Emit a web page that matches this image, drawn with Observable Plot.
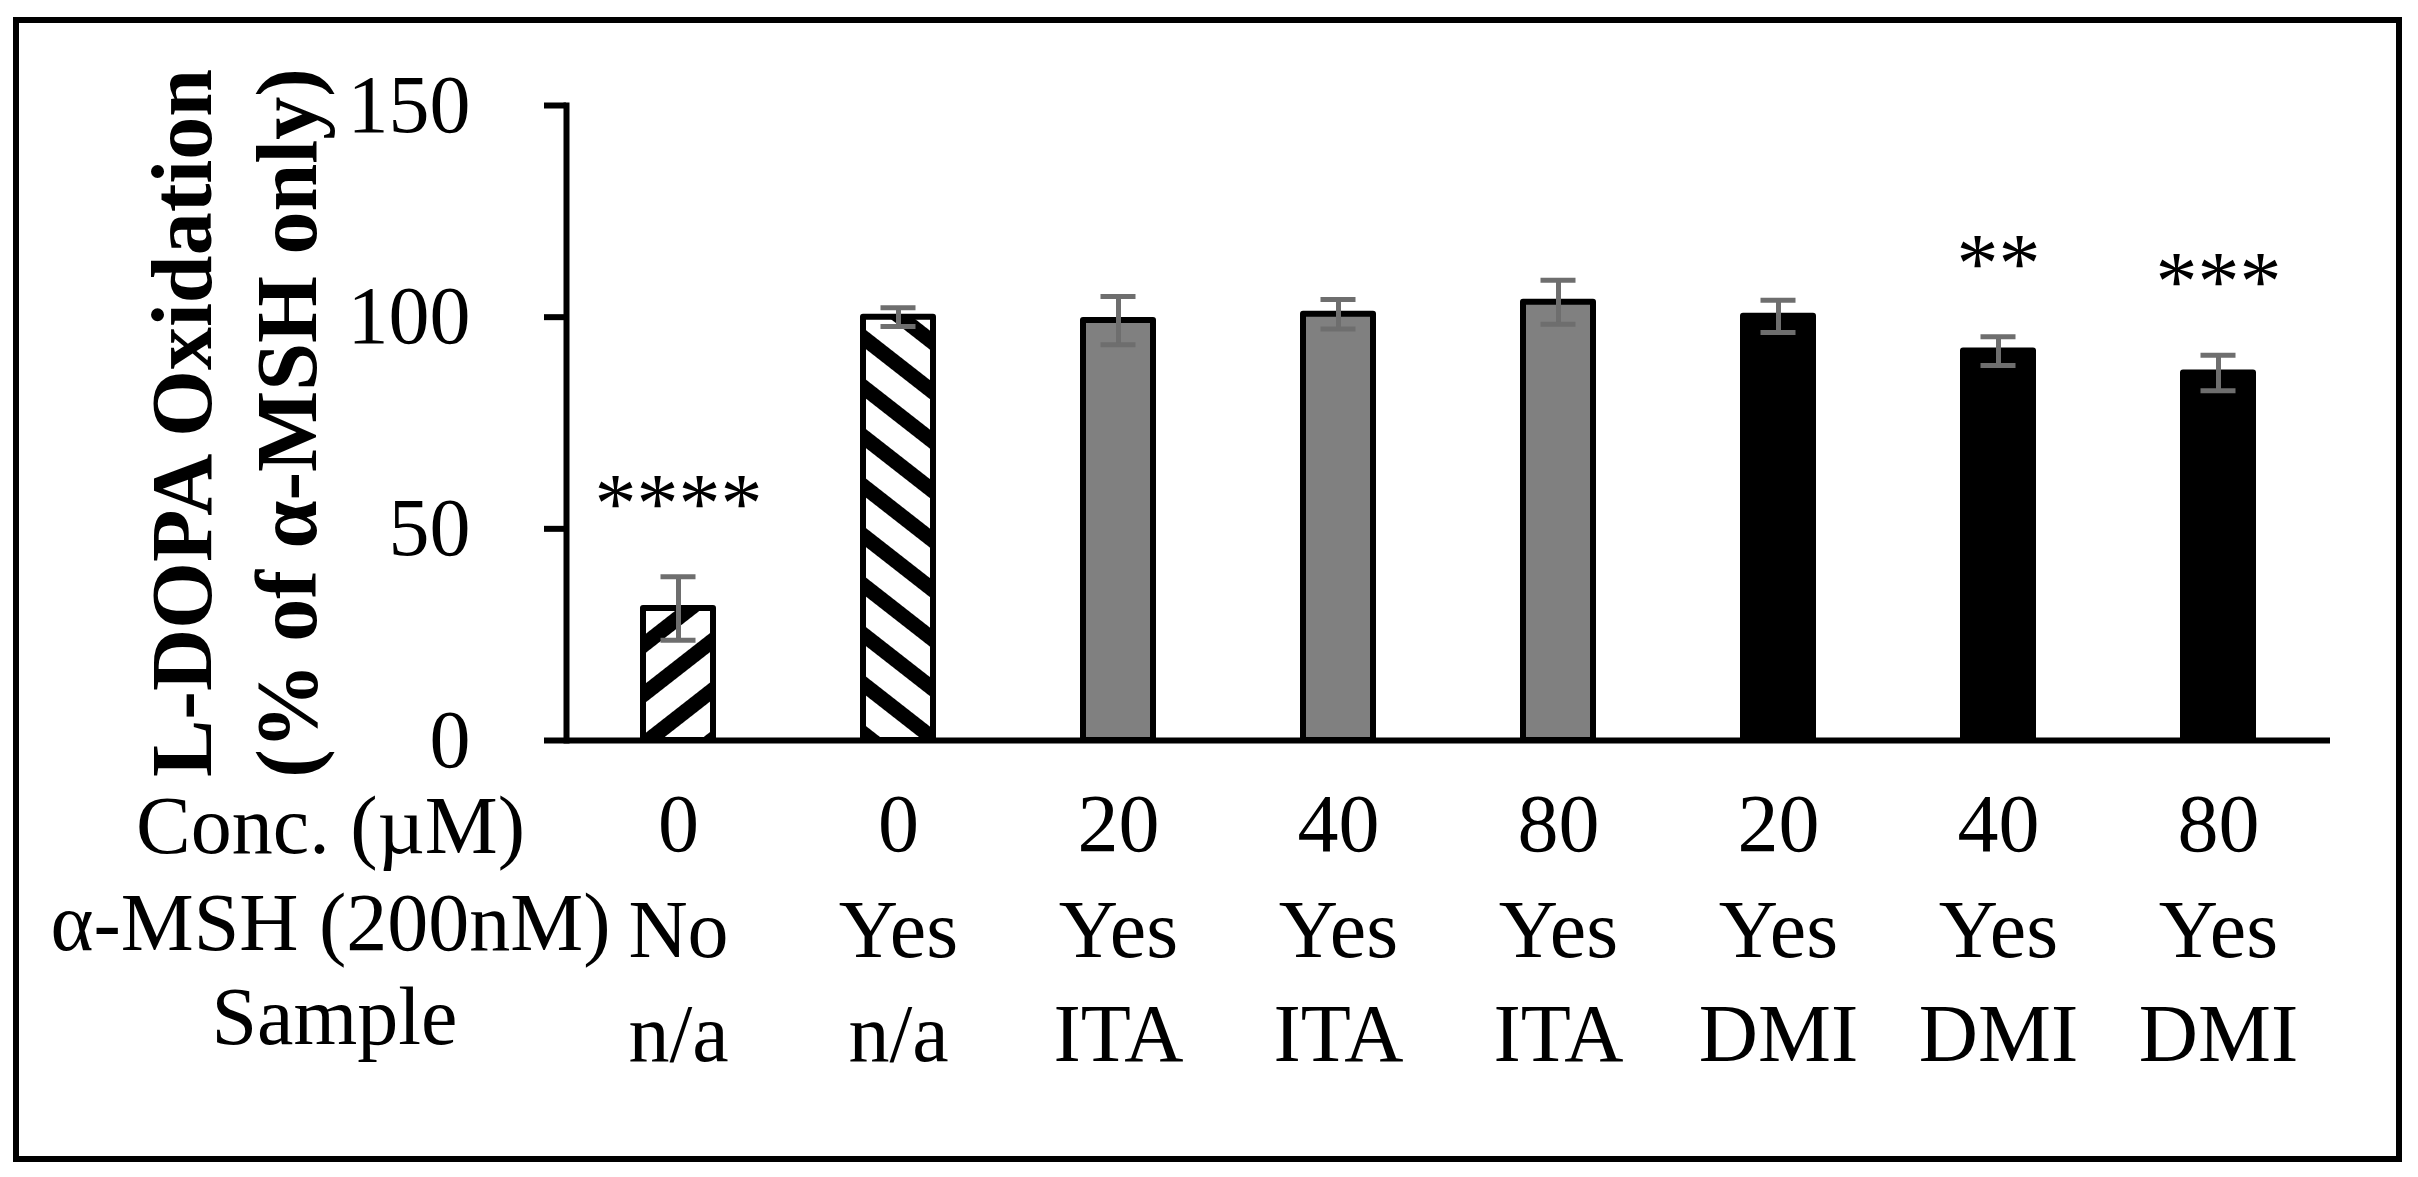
<!DOCTYPE html>
<html>
<head>
<meta charset="utf-8">
<script src="https://cdn.jsdelivr.net/npm/d3@7"></script>
<script src="https://cdn.jsdelivr.net/npm/@observablehq/plot@0.6"></script>
<style>
  html, body { margin: 0; padding: 0; background: #fff; }
  #wrap { position: relative; width: 2418px; height: 1177px; overflow: hidden; }
  #box { position: absolute; left: 13px; top: 17px; width: 2389px; height: 1145px;
         border: 6px solid #000; box-sizing: border-box; pointer-events: none; }
  #chart { position: absolute; left: 0; top: 0; }
</style>
</head>
<body>
<svg width="0" height="0" style="position:absolute">
  <defs>
    <pattern id="hatchDown" patternUnits="userSpaceOnUse" width="39" height="39" patternTransform="rotate(38)">
      <rect width="39" height="39" fill="#fff"/>
      <rect width="39" height="15" fill="#000"/>
    </pattern>
    <pattern id="hatchUp" patternUnits="userSpaceOnUse" width="39" height="39" patternTransform="rotate(-38)">
      <rect width="39" height="39" fill="#fff"/>
      <rect width="39" height="15" fill="#000"/>
    </pattern>
  </defs>
</svg>
<div id="wrap"><div id="chart"></div><div id="box"></div></div>
<script>
// ---- data ----
const concLabels   = ["0", "0", "20", "40", "80", "20", "40", "80"];
const mshLabels    = ["No", "Yes", "Yes", "Yes", "Yes", "Yes", "Yes", "Yes"];
const sampleLabels = ["n/a", "n/a", "ITA", "ITA", "ITA", "DMI", "DMI", "DMI"];
const means        = [31.2, 100.0, 99.2, 100.7, 103.5, 100.2, 92.0, 86.8];
const errors       = [7.5, 2.2, 5.7, 3.5, 5.2, 3.8, 3.4, 4.2];
const groups       = ["untreated", "control", "ITA", "ITA", "ITA", "DMI", "DMI", "DMI"];
const stars        = ["****", "", "", "", "", "", "**", "***"];
const rowTitles    = ["Conc. (\u00B5M)", "\u03B1-MSH (200nM)", "Sample"];
const yTitle       = "L-DOPA Oxidation\n(% of \u03B1-MSH only)";
const yTicks       = [0, 50, 100, 150];

// fill per group
const groupFill = {untreated: "url(#hatchUp)", control: "url(#hatchDown)", ITA: "#808080", DMI: "#000000"};

const data = means.map((m, i) => ({
  key: i, mean: m, err: errors[i], group: groups[i], star: stars[i],
  conc: concLabels[i], msh: mshLabels[i], sample: sampleLabels[i]
}));

const font = "'Times New Roman', 'Liberation Serif', serif";
const errColor = "#6e6e6e";

const plot = Plot.plot({
  width: 2418,
  height: 1177,
  marginLeft: 566,
  marginRight: 88,
  marginTop: 105,
  marginBottom: 437,
  style: {fontFamily: font, fontSize: "82px", color: "#000", background: "transparent", overflow: "visible"},
  x: {domain: d3.range(data.length), paddingInner: 0.6825, paddingOuter: 0.341, axis: null},
  y: {domain: [0, 150]},
  color: {type: "identity"},
  marks: [
    Plot.barY(data, {x: "key", y: "mean", fill: d => groupFill[d.group], stroke: "#000", strokeWidth: 6, strokeLinejoin: "round"}),
    Plot.ruleX(data, {x: "key", y1: d => d.mean - d.err, y2: d => d.mean + d.err, stroke: errColor, strokeWidth: 5}),
    Plot.tickY(data, {x: "key", y: d => d.mean + d.err, stroke: errColor, strokeWidth: 5, insetLeft: 17.5, insetRight: 17.5}),
    Plot.tickY(data, {x: "key", y: d => d.mean - d.err, stroke: errColor, strokeWidth: 5, insetLeft: 17.5, insetRight: 17.5}),
    Plot.text(data, {x: "key", y: d => d.mean + d.err, text: "star", dy: -45, lineAnchor: "bottom", fontSize: 84, fill: "#000"}),
    Plot.ruleY([0], {stroke: "#000", strokeWidth: 6}),
    Plot.frame({anchor: "left", stroke: "#000", strokeWidth: 6}),
    Plot.axisY({ticks: yTicks, tickSize: 22, tickPadding: 74, strokeWidth: 6, fontSize: 82, label: null}),
    // category labels (three rows)
    Plot.text(data, {x: "key", text: "conc", frameAnchor: "bottom", dy: 110, lineAnchor: "bottom", fontSize: 82, fill: "#000"}),
    Plot.text(data, {x: "key", text: "msh", frameAnchor: "bottom", dy: 216, lineAnchor: "bottom", fontSize: 82, fill: "#000"}),
    Plot.text(data, {x: "key", text: "sample", frameAnchor: "bottom", dy: 320, lineAnchor: "bottom", fontSize: 82, fill: "#000"}),
    // row titles
    Plot.text([rowTitles[0]], {frameAnchor: "bottom-left", dx: -236, dy: 112, lineAnchor: "bottom", textAnchor: "middle", fontSize: 82, fill: "#000"}),
    Plot.text([rowTitles[1]], {frameAnchor: "bottom-left", dx: -236, dy: 209, lineAnchor: "bottom", textAnchor: "middle", fontSize: 82, fill: "#000"}),
    Plot.text([rowTitles[2]], {frameAnchor: "bottom-left", dx: -232, dy: 303, lineAnchor: "bottom", textAnchor: "middle", fontSize: 82, fill: "#000"}),
    // y title
    Plot.text([yTitle], {frameAnchor: "left", dx: -251, rotate: -90, lineAnchor: "bottom", lineHeight: 1.21, textAnchor: "middle", fontSize: 86, fontWeight: "bold", fill: "#000"})
  ]
});
document.getElementById("chart").appendChild(plot);
</script>
</body>
</html>
